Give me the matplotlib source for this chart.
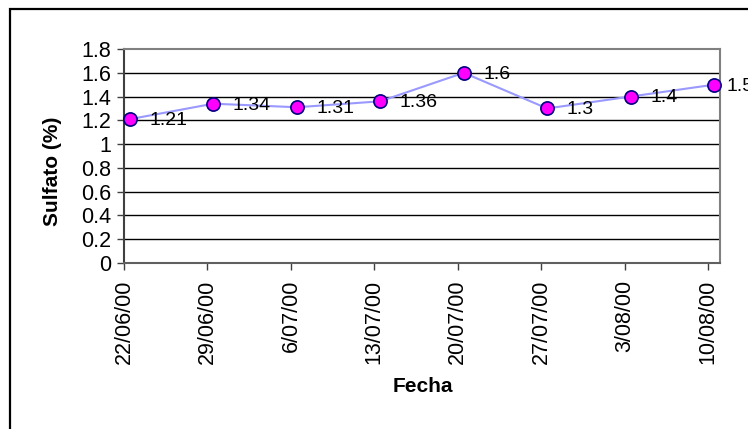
import matplotlib.pyplot as plt
import pandas as pd
import numpy as np
from matplotlib.patches import Rectangle

plt.rcParams['font.family'] = ['Liberation Sans', 'DejaVu Sans']

# weekly sulphate readings
fechas = ["22/06/00", "29/06/00", "6/07/00", "13/07/00",
          "20/07/00", "27/07/00", "3/08/00", "10/08/00"]
sulfato = [1.21, 1.34, 1.31, 1.36, 1.6, 1.3, 1.4, 1.5]
y_ticks = [0, 0.2, 0.4, 0.6, 0.8, 1, 1.2, 1.4, 1.6, 1.8]

dates = pd.to_datetime(fechas, format="%d/%m/%y")
days = np.array((dates - dates[0]).days, dtype=float)
# points sit in the middle of each day slot
x_pts = days + 0.5

W, H = 748, 429
fig = plt.figure(figsize=(W / 100, H / 100), dpi=100)

# chart frame
fig.patches.append(Rectangle((10 / W, -0.1), 1.2, 1 - 9 / H + 0.1,
                             transform=fig.transFigure, fill=False,
                             edgecolor="black", linewidth=1.6, zorder=0))

ax = fig.add_axes([124 / W, (H - 263) / H, 596 / W, 214 / H])
ax.set_xlim(0, days[-1] + 1)
ax.set_ylim(0, 1.8)

for y in y_ticks[1:-1]:
    ax.axhline(y, color="black", linewidth=1.0, zorder=1)

ax.plot(x_pts, sulfato, color="#9999FF", linewidth=1.5, zorder=2)
ax.plot(x_pts, sulfato, linestyle="none", marker="o", markersize=9.5,
        markerfacecolor="#FF00FF", markeredgecolor="#000080",
        markeredgewidth=1.2, zorder=3, clip_on=False)

for i, (x, v) in enumerate(zip(x_pts, sulfato)):
    # last label is pulled in a little towards the point
    dx = 9 if i == len(sulfato) - 1 else 14
    ax.annotate(f"{v:g}", (x, v), xytext=(dx, -1), textcoords="offset points",
                va="center", ha="left", fontsize=14, annotation_clip=False)

ax.set_yticks(y_ticks)
ax.set_yticklabels([f"{t:g}" for t in y_ticks], fontsize=15.5)
ax.set_xticks(days)
ax.set_xticklabels(fechas, rotation=90, fontsize=15.5)
ax.tick_params(axis="both", direction="out", length=5, width=1, color="#404040")
ax.tick_params(axis="x", pad=7)
ax.tick_params(axis="y", pad=4)

for side in ["top", "right"]:
    ax.spines[side].set_color("#808080")
    ax.spines[side].set_linewidth(1.5)
ax.spines["left"].set_color("#404040")
ax.spines["left"].set_linewidth(1.5)
ax.spines["bottom"].set_color("#606060")
ax.spines["bottom"].set_linewidth(1.5)

fig.text(52 / W, 1 - 171 / H, "Sulfato (%)", rotation=90, ha="center",
         va="center", fontsize=15, fontweight="bold")
fig.text(423 / W, 1 - 387 / H, "Fecha", ha="center", va="center",
         fontsize=15, fontweight="bold")

fig.savefig("out.png", dpi=100)
